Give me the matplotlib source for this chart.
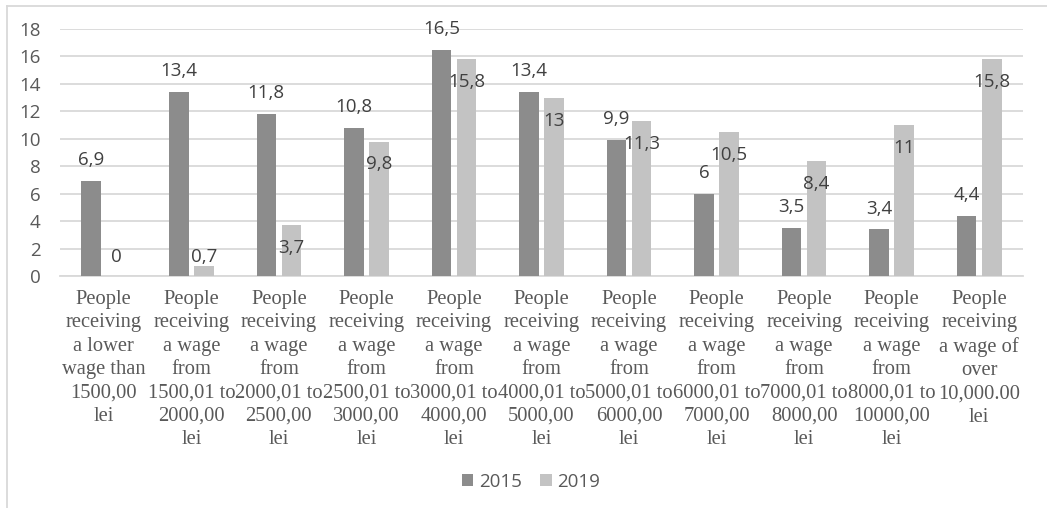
import numpy as np
import matplotlib.pyplot as plt
from matplotlib.lines import Line2D

# categories (x tick labels, wrapped as in the original)
categories = [
    'People\nreceiving\na lower\nwage than\n1500,00\nlei',
    'People\nreceiving\na wage\nfrom\n1500,01 to\n2000,00\nlei',
    'People\nreceiving\na wage\nfrom\n2000,01 to\n2500,00\nlei',
    'People\nreceiving\na wage\nfrom\n2500,01 to\n3000,00\nlei',
    'People\nreceiving\na wage\nfrom\n3000,01 to\n4000,00\nlei',
    'People\nreceiving\na wage\nfrom\n4000,01 to\n5000,00\nlei',
    'People\nreceiving\na wage\nfrom\n5000,01 to\n6000,00\nlei',
    'People\nreceiving\na wage\nfrom\n6000,01 to\n7000,00\nlei',
    'People\nreceiving\na wage\nfrom\n7000,01 to\n8000,00\nlei',
    'People\nreceiving\na wage\nfrom\n8000,01 to\n10000,00\nlei',
    'People\nreceiving\na wage of\nover\n10,000.00\nlei',
]
vals_2015 = [6.9, 13.4, 11.8, 10.8, 16.5, 13.4, 9.9, 6.0, 3.5, 3.4, 4.4]
vals_2019 = [0.0, 0.7, 3.7, 9.8, 15.8, 13.0, 11.3, 10.5, 8.4, 11.0, 15.8]
yticks = [0, 2, 4, 6, 8, 10, 12, 14, 16, 18]

c2015 = '#8c8c8c'
c2019 = '#c3c3c3'
grid_c = '#d9d9d9'
lab_c = '#404040'
tick_c = '#595959'
fs = 13.5

def fmt(v):
    s = ('%.1f' % v).replace('.', ',')
    if s.endswith(',0'):
        s = s[:-2]
    return s

W, H = 1047, 508
fig = plt.figure(figsize=(W / 100, H / 100), dpi=100)
ax = fig.add_axes([60 / W, (H - 276) / H, (1023 - 60) / W, (276 - 29) / H])

x = np.arange(len(categories))
bw = 0.223
off = 0.143
b1 = ax.bar(x - off, vals_2015, bw, color=c2015, label='2015', zorder=3)
b2 = ax.bar(x + off, vals_2019, bw, color=c2019, label='2019', zorder=3)

# data labels
for xi, v in zip(x, vals_2015):
    ax.annotate(fmt(v), (xi - off, v), xytext=(0, 15), textcoords='offset points',
                ha='center', va='center', fontsize=fs, family='Open Sans',
                color=lab_c, zorder=4)
for xi, v in zip(x, vals_2019):
    if v < 2:
        yy, dy = 0, 14
    else:
        yy, dy = v, -16.5
    ax.annotate(fmt(v), (xi + off, yy), xytext=(0, dy), textcoords='offset points',
                ha='center', va='center', fontsize=fs, family='Open Sans',
                color=lab_c, zorder=4)

ax.set_xlim(-0.5, len(categories) - 0.5)
ax.set_ylim(0, 18)
ax.set_yticks(yticks)
ax.set_yticklabels([str(t) for t in yticks], family='Open Sans', fontsize=fs, color=tick_c)
ax.set_xticks(x)
ax.set_xticklabels(categories, family=['Liberation Serif'], fontsize=14.8, color=tick_c,
                   linespacing=1.31, va='top')
ax.tick_params(axis='both', length=0)
ax.tick_params(axis='x', pad=10)
ax.tick_params(axis='y', pad=14)
ax.yaxis.grid(True, color=grid_c, linewidth=1.3, zorder=0)
ax.set_axisbelow(True)
for s in ['top', 'right', 'left']:
    ax.spines[s].set_visible(False)
ax.spines['bottom'].set_color(grid_c)
ax.spines['bottom'].set_linewidth(1.3)

leg = fig.legend(handles=[b1, b2], loc='center', bbox_to_anchor=(531 / W, 1 - 482 / H),
                 ncol=2, frameon=False, handlelength=0.6, handleheight=0.6,
                 handletextpad=0.3, columnspacing=1.0,
                 prop={'family': 'Open Sans', 'size': fs})
for t in leg.get_texts():
    t.set_color(tick_c)

# chart border
fig.add_artist(Line2D([6.5 / W, 6.5 / W], [0, 1 - 5.5 / H], color=grid_c, linewidth=1.3))
fig.add_artist(Line2D([6.5 / W, 1], [1 - 5.5 / H, 1 - 5.5 / H], color=grid_c, linewidth=1.3))

fig.savefig('out.png', dpi=100)
